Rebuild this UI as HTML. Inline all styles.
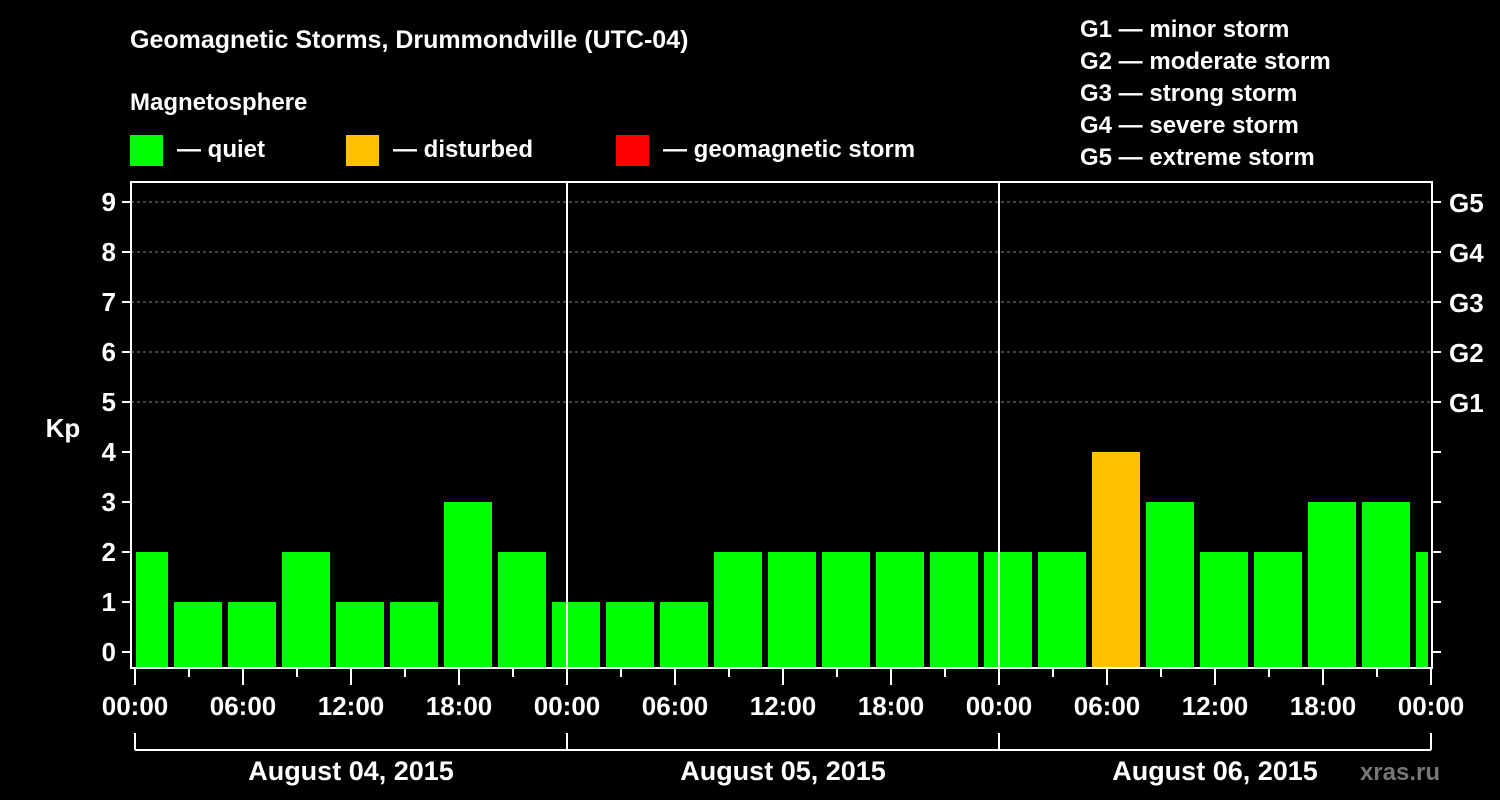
<!DOCTYPE html>
<html><head><meta charset="utf-8"><style>
body{margin:0;background:#000;}
svg{display:block;font-family:"Liberation Sans",sans-serif;font-weight:bold;}
</style></head><body>
<svg id="c" width="1500" height="800" viewBox="0 0 1500 800">
<rect width="1500" height="800" fill="#000"/>
<text x="130" y="48" fill="#fff" font-size="25">Geomagnetic Storms, Drummondville (UTC-04)</text>
<text x="130" y="110" fill="#fff" font-size="24">Magnetosphere</text>
<g><rect x="130" y="135" width="33" height="31" fill="#00ff00"/><text x="177" y="157" fill="#fff" font-size="24">— quiet</text></g>
<g><rect x="346" y="135" width="33" height="31" fill="#ffc000"/><text x="393" y="157" fill="#fff" font-size="24">— disturbed</text></g>
<g><rect x="616" y="135" width="33" height="31" fill="#ff0000"/><text x="663" y="157" fill="#fff" font-size="24">— geomagnetic storm</text></g>
<g fill="#fff" font-size="24">
<text x="1080" y="37">G1 — minor storm</text>
<text x="1080" y="69">G2 — moderate storm</text>
<text x="1080" y="101">G3 — strong storm</text>
<text x="1080" y="133">G4 — severe storm</text>
<text x="1080" y="165">G5 — extreme storm</text>
</g>
<text x="63" y="437" fill="#fff" font-size="26" text-anchor="middle">Kp</text>
<text x="1440" y="780" fill="#777" font-size="24" text-anchor="end">xras.ru</text>
<g id="plot"></g>
</svg>
<script>
const kpValues=[2,1,1,2,1,1,3,2,1,1,1,2,2,2,2,2,2,2,4,3,2,2,3,3,2];
const yTicks=[0,1,2,3,4,5,6,7,8,9];
const gLabels=["G1","G2","G3","G4","G5"];
const dayLabels=["August 04, 2015","August 05, 2015","August 06, 2015"];
const xTickLabels=["00:00","06:00","12:00","18:00"];
const firstBarHour=-1, barHours=3, totalHours=72;
const L=131,R=1432,T=182,B=668,X0=135,pxH=18;
const y=v=>652-50*v, x=h=>X0+h*pxH;
const g=document.getElementById('plot'), NS='http://www.w3.org/2000/svg';
function el(t,a,p){const e=document.createElementNS(NS,t);for(const k in a)e.setAttribute(k,a[k]);(p||g).appendChild(e);return e;}
// grid
for(let v=5;v<=9;v++){const l=el('line',{x1:L,x2:R,y1:y(v),y2:y(v),stroke:'#888','stroke-dasharray':'3,3','stroke-width':1});

}
// bars
kpValues.forEach((v,i)=>{
 let s=firstBarHour+i*barHours, e=s+barHours;
 let x1=x(s)+3, x2=x(e)-3;
 x1=Math.max(x1,x(0)+1); x2=Math.min(x2,x(totalHours)-3);
 const r=el('rect',{x:x1,y:y(v),width:x2-x1,height:B-y(v),fill:v>=5?'#ff0000':(v>=4?'#ffc000':'#00ff00')});
 
 
});
// day separators
[24,48].forEach(h=>{const l=el('line',{x1:x(h),x2:x(h),y1:T,y2:B,stroke:'#fff','stroke-width':2});

});
// frame
const fr=el('rect',{x:L,y:T,width:R-L,height:B-T,fill:'none',stroke:'#fff','stroke-width':2});


// y ticks
yTicks.forEach(v=>{
 el('line',{x1:122,x2:L,y1:y(v),y2:y(v),stroke:'#fff','stroke-width':2});
 el('line',{x1:R,x2:R+9,y1:y(v),y2:y(v),stroke:'#fff','stroke-width':2});
 const t=el('text',{x:116,y:y(v)+9,fill:'#fff','font-size':26,'text-anchor':'end'});t.textContent=v;
 
 
});
gLabels.forEach((s,i)=>{const t=el('text',{x:1449,y:y(5+i)+10,fill:'#fff','font-size':26});t.textContent=s;
 
 });
// x ticks
for(let h=0;h<=totalHours;h+=3){const major=h%6===0;
 el('line',{x1:x(h),x2:x(h),y1:B,y2:B+(major?17:9),stroke:'#fff','stroke-width':2});
 if(major){const t=el('text',{x:x(h),y:715,fill:'#fff','font-size':26,'text-anchor':'middle'});t.textContent=xTickLabels[(h/6)%4];
 
 }
}
// day brackets
el('line',{x1:x(0),x2:x(72),y1:750,y2:750,stroke:'#fff','stroke-width':2});
[0,24,48,72].forEach(h=>el('line',{x1:x(h),x2:x(h),y1:733,y2:750,stroke:'#fff','stroke-width':2}));
dayLabels.forEach((s,i)=>{const t=el('text',{x:x(24*i+12),y:780,fill:'#fff','font-size':27,'text-anchor':'middle'});t.textContent=s;
 
 });
</script>
</body></html>
